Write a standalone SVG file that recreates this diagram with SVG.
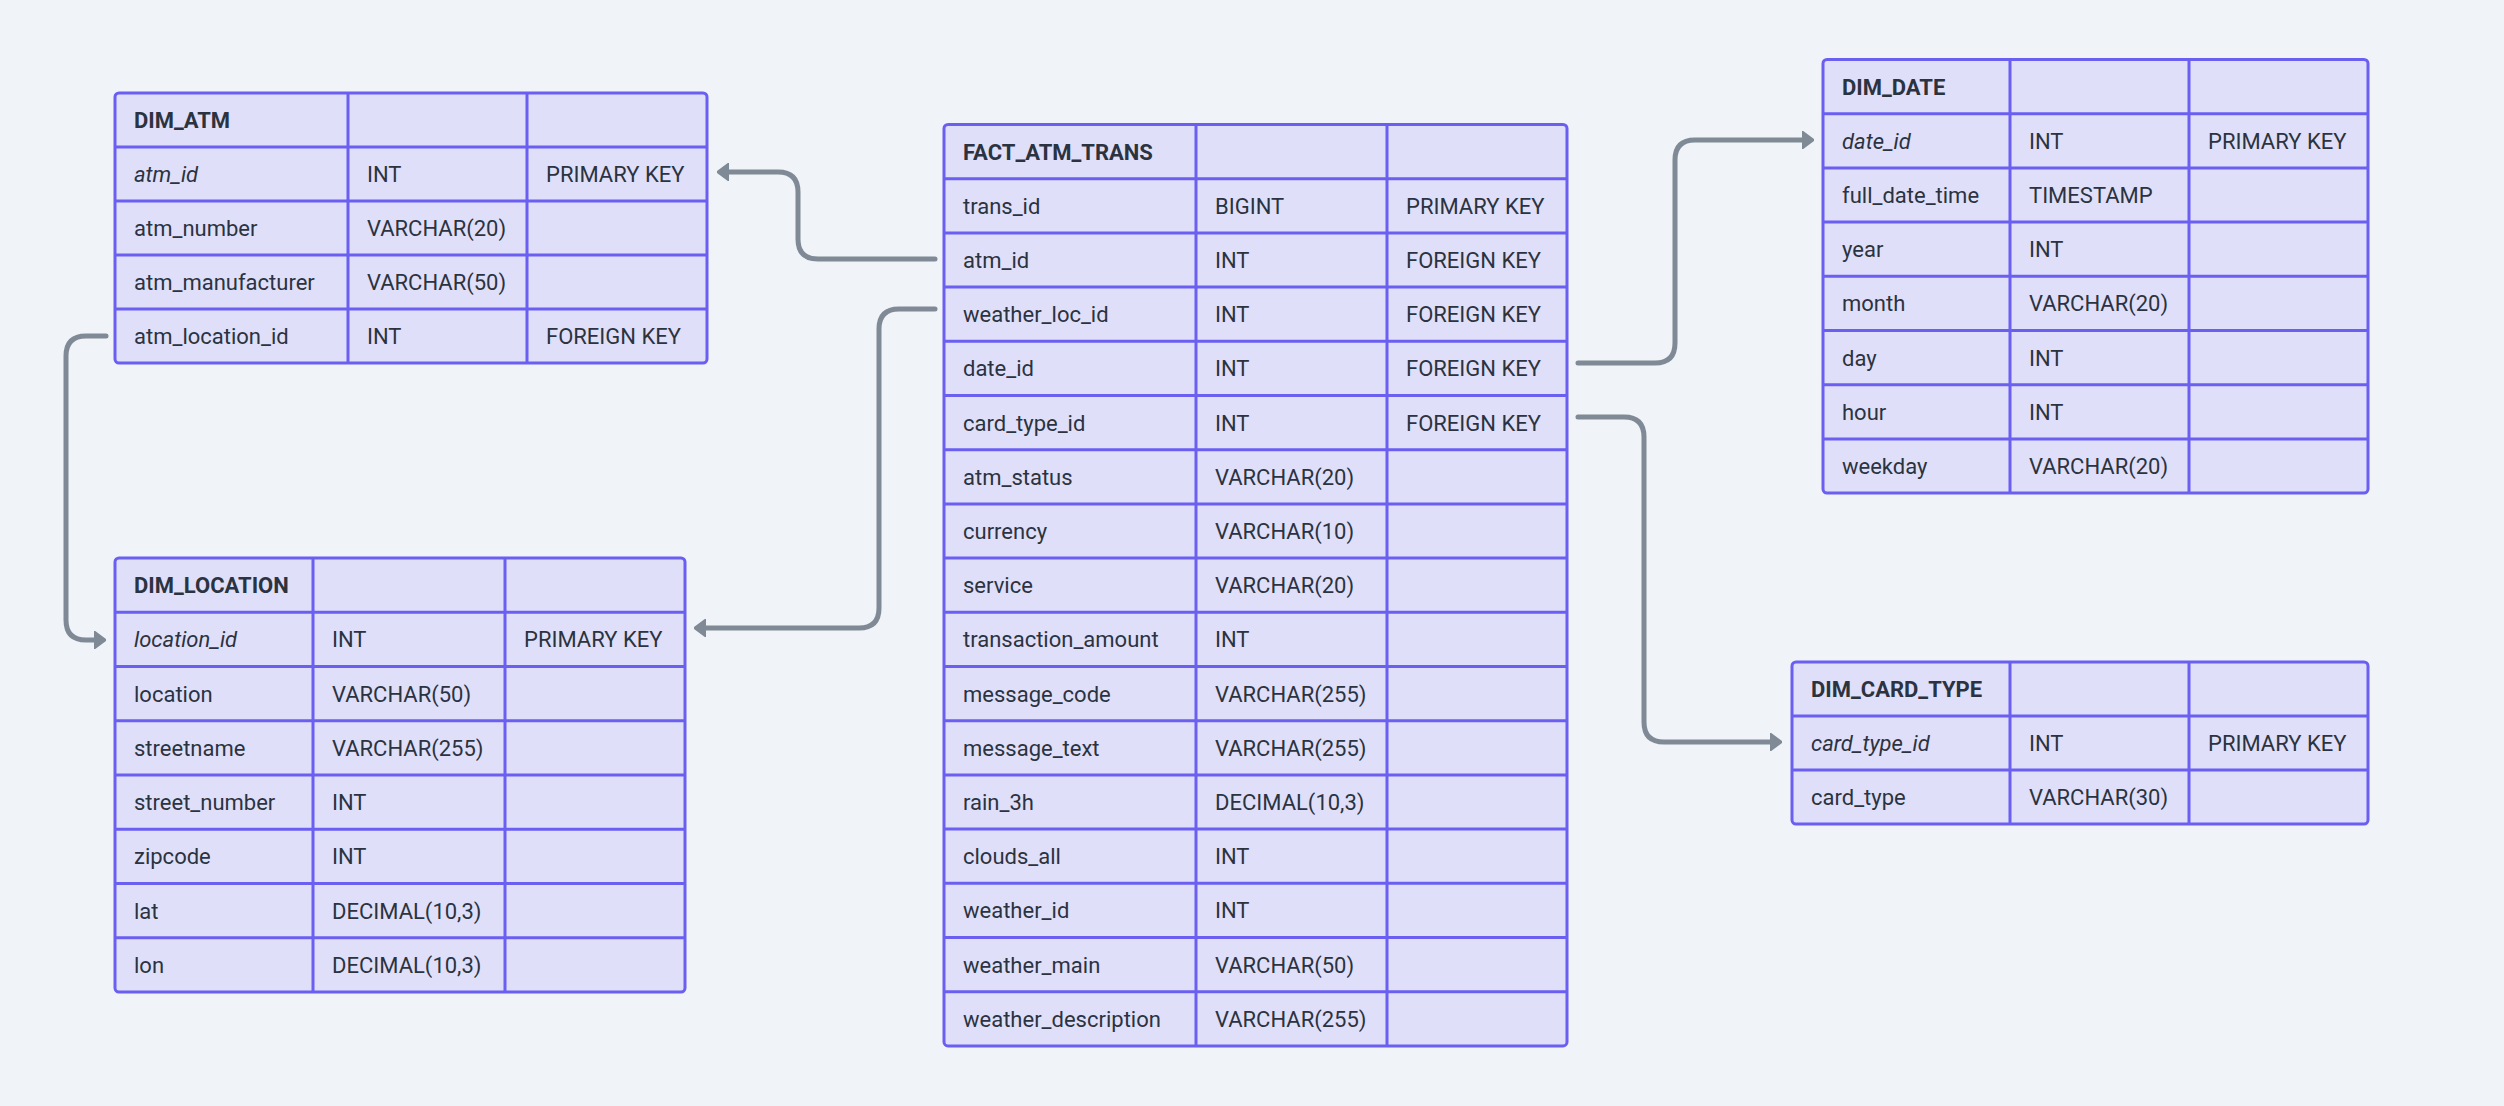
<svg xmlns="http://www.w3.org/2000/svg" width="2504" height="1106" viewBox="0 0 2504 1106">
<style>
.bg{fill:#f0f3f7}
.tb{fill:#e0dffa;stroke:#6b5ff2;stroke-width:3}
.ln{stroke:#6b5ff2;stroke-width:3;fill:none}
text{font-family:Roboto,"Liberation Sans",sans-serif;font-size:22px;fill:#2b3340}
.h{font-weight:bold}
.i{font-style:italic}
.cn{fill:none;stroke:#7f8a96;stroke-width:5;stroke-linecap:round;stroke-linejoin:round}
</style>
<defs>
<marker id="arr" viewBox="0 -9 12 18" refX="2" refY="0" markerWidth="12" markerHeight="18" markerUnits="userSpaceOnUse" orient="auto">
<path d="M0,-9 L12,0 L0,9 Z" fill="#7f8a96" stroke="#7f8a96" stroke-width="1.5" stroke-linejoin="round"/>
</marker>
</defs>
<rect class="bg" x="0" y="0" width="2504" height="1106"/>

<g id="connectors">
<path class="cn" marker-end="url(#arr)" d="M935,259 H818 Q798,259 798,239 V192 Q798,172 778,172 H727"/>
<path class="cn" marker-end="url(#arr)" d="M935,309 H899 Q879,309 879,329 V608 Q879,628 859,628 H704"/>
<path class="cn" marker-end="url(#arr)" d="M106,336 H86 Q66,336 66,356 V620 Q66,640 86,640 H96"/>
<path class="cn" marker-end="url(#arr)" d="M1578,363 H1655 Q1675,363 1675,343 V160 Q1675,140 1695,140 H1804"/>
<path class="cn" marker-end="url(#arr)" d="M1578,417 H1624 Q1644,417 1644,437 V722 Q1644,742 1664,742 H1772"/>
</g>

<g id="DIM_ATM">
<rect class="tb" x="115" y="93" width="592" height="270" rx="4"/>
<path class="ln" d="M115,147H707 M115,201H707 M115,255H707 M115,309H707 M348,93V363 M527,93V363"/>
<text class="h" x="134" y="128">DIM_ATM</text>
<text class="i" x="134" y="182">atm_id</text><text x="367" y="182">INT</text><text x="546" y="182">PRIMARY KEY</text>
<text x="134" y="236">atm_number</text><text x="367" y="236">VARCHAR(20)</text>
<text x="134" y="290">atm_manufacturer</text><text x="367" y="290">VARCHAR(50)</text>
<text x="134" y="344">atm_location_id</text><text x="367" y="344">INT</text><text x="546" y="344">FOREIGN KEY</text>
</g>

<g id="DIM_LOCATION">
<rect class="tb" x="115" y="558" width="570" height="434" rx="4"/>
<path class="ln" d="M115,612.25H685 M115,666.5H685 M115,720.75H685 M115,775H685 M115,829.25H685 M115,883.5H685 M115,937.75H685 M313,558V992 M505,558V992"/>
<text class="h" x="134" y="593">DIM_LOCATION</text>
<text class="i" x="134" y="647">location_id</text><text x="332" y="647">INT</text><text x="524" y="647">PRIMARY KEY</text>
<text x="134" y="701.5">location</text><text x="332" y="701.5">VARCHAR(50)</text>
<text x="134" y="756">streetname</text><text x="332" y="756">VARCHAR(255)</text>
<text x="134" y="810">street_number</text><text x="332" y="810">INT</text>
<text x="134" y="864">zipcode</text><text x="332" y="864">INT</text>
<text x="134" y="918.5">lat</text><text x="332" y="918.5">DECIMAL(10,3)</text>
<text x="134" y="973">lon</text><text x="332" y="973">DECIMAL(10,3)</text>
</g>

<g id="FACT_ATM_TRANS">
<rect class="tb" x="944" y="124.5" width="623" height="921.4" rx="4"/>
<path class="ln" d="M944,178.7H1567 M944,232.9H1567 M944,287.1H1567 M944,341.3H1567 M944,395.5H1567 M944,449.7H1567 M944,503.9H1567 M944,558.1H1567 M944,612.3H1567 M944,666.5H1567 M944,720.7H1567 M944,774.9H1567 M944,829.1H1567 M944,883.3H1567 M944,937.5H1567 M944,991.7H1567 M1196,124.5V1045.9 M1387,124.5V1045.9"/>
<text class="h" x="963" y="159.5">FACT_ATM_TRANS</text>
<text x="963" y="213.7">trans_id</text><text x="1215" y="213.7">BIGINT</text><text x="1406" y="213.7">PRIMARY KEY</text>
<text x="963" y="267.9">atm_id</text><text x="1215" y="267.9">INT</text><text x="1406" y="267.9">FOREIGN KEY</text>
<text x="963" y="322.1">weather_loc_id</text><text x="1215" y="322.1">INT</text><text x="1406" y="322.1">FOREIGN KEY</text>
<text x="963" y="376.3">date_id</text><text x="1215" y="376.3">INT</text><text x="1406" y="376.3">FOREIGN KEY</text>
<text x="963" y="430.5">card_type_id</text><text x="1215" y="430.5">INT</text><text x="1406" y="430.5">FOREIGN KEY</text>
<text x="963" y="484.7">atm_status</text><text x="1215" y="484.7">VARCHAR(20)</text>
<text x="963" y="538.9">currency</text><text x="1215" y="538.9">VARCHAR(10)</text>
<text x="963" y="593.1">service</text><text x="1215" y="593.1">VARCHAR(20)</text>
<text x="963" y="647.3">transaction_amount</text><text x="1215" y="647.3">INT</text>
<text x="963" y="701.5">message_code</text><text x="1215" y="701.5">VARCHAR(255)</text>
<text x="963" y="755.7">message_text</text><text x="1215" y="755.7">VARCHAR(255)</text>
<text x="963" y="809.9">rain_3h</text><text x="1215" y="809.9">DECIMAL(10,3)</text>
<text x="963" y="864.1">clouds_all</text><text x="1215" y="864.1">INT</text>
<text x="963" y="918.3">weather_id</text><text x="1215" y="918.3">INT</text>
<text x="963" y="972.5">weather_main</text><text x="1215" y="972.5">VARCHAR(50)</text>
<text x="963" y="1026.7">weather_description</text><text x="1215" y="1026.7">VARCHAR(255)</text>
</g>

<g id="DIM_DATE">
<rect class="tb" x="1823" y="59.5" width="545" height="433.6" rx="4"/>
<path class="ln" d="M1823,113.7H2368 M1823,167.9H2368 M1823,222.1H2368 M1823,276.3H2368 M1823,330.5H2368 M1823,384.7H2368 M1823,438.9H2368 M2010,59.5V493.1 M2189,59.5V493.1"/>
<text class="h" x="1842" y="94.5">DIM_DATE</text>
<text class="i" x="1842" y="148.7">date_id</text><text x="2029" y="148.7">INT</text><text x="2208" y="148.7">PRIMARY KEY</text>
<text x="1842" y="202.9">full_date_time</text><text x="2029" y="202.9">TIMESTAMP</text>
<text x="1842" y="257.1">year</text><text x="2029" y="257.1">INT</text>
<text x="1842" y="311.3">month</text><text x="2029" y="311.3">VARCHAR(20)</text>
<text x="1842" y="365.5">day</text><text x="2029" y="365.5">INT</text>
<text x="1842" y="419.7">hour</text><text x="2029" y="419.7">INT</text>
<text x="1842" y="473.9">weekday</text><text x="2029" y="473.9">VARCHAR(20)</text>
</g>

<g id="DIM_CARD_TYPE">
<rect class="tb" x="1792" y="662" width="576" height="162" rx="4"/>
<path class="ln" d="M1792,716H2368 M1792,770H2368 M2010,662V824 M2189,662V824"/>
<text class="h" x="1811" y="697">DIM_CARD_TYPE</text>
<text class="i" x="1811" y="751">card_type_id</text><text x="2029" y="751">INT</text><text x="2208" y="751">PRIMARY KEY</text>
<text x="1811" y="805">card_type</text><text x="2029" y="805">VARCHAR(30)</text>
</g>
</svg>
